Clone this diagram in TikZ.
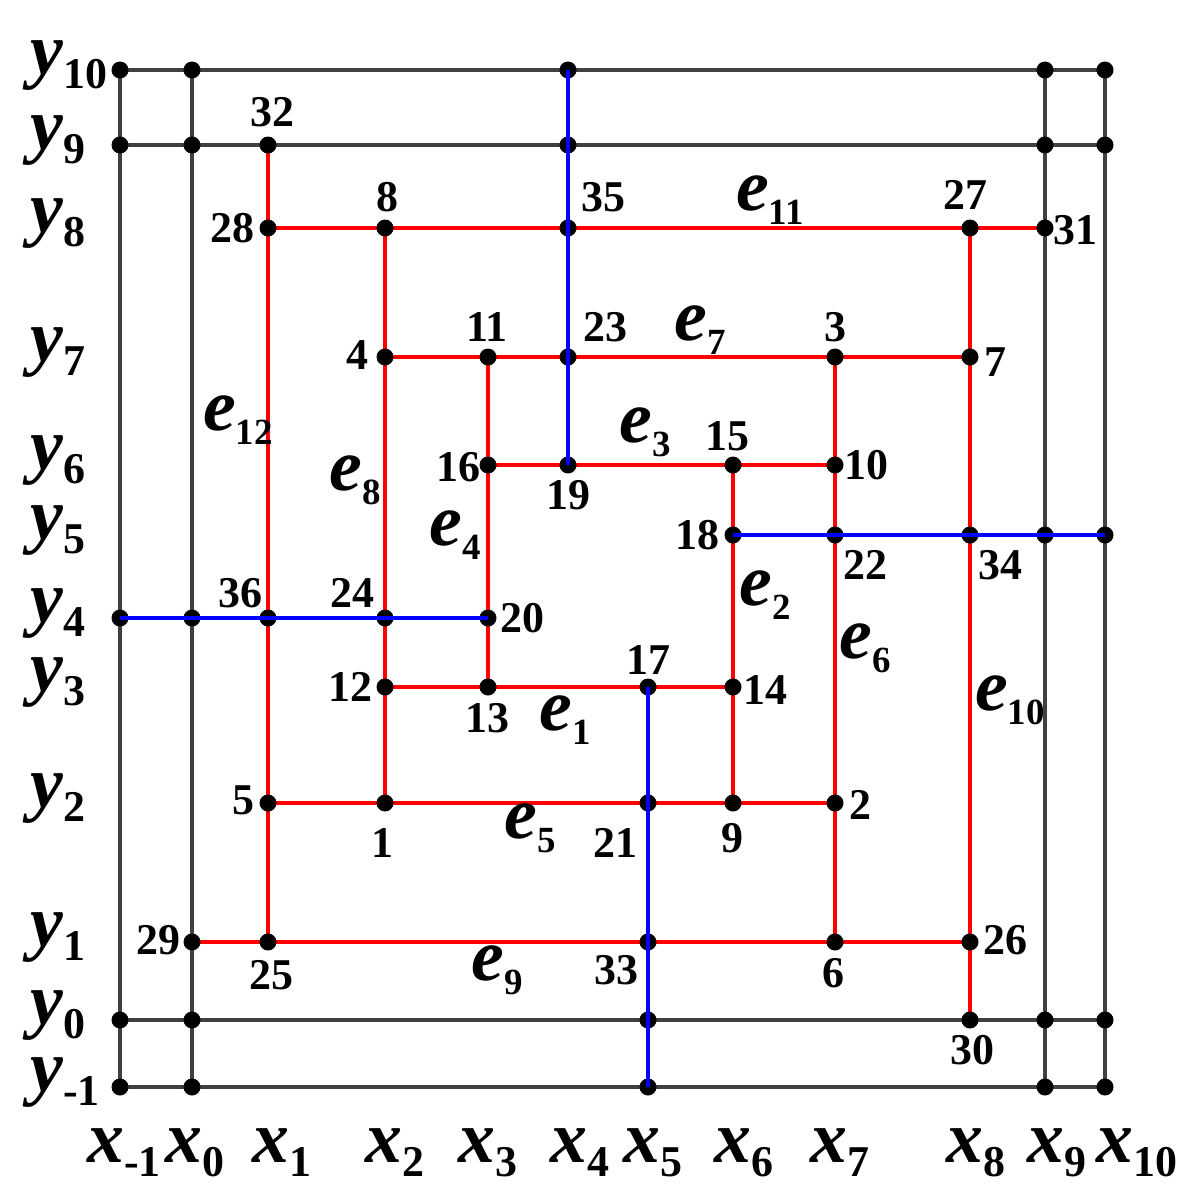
\documentclass[tikz,border=0pt]{standalone}
\usepackage{fontspec}
\setmainfont{Liberation Serif}
\definecolor{gridc}{HTML}{404040}
\definecolor{redc}{HTML}{FF0000}
\definecolor{bluec}{HTML}{0000FF}
\tikzset{
  gridline/.style={draw=gridc, line width=2.6pt},
  redline/.style={draw=redc, line width=2.6pt},
  blueline/.style={draw=bluec, line width=2.4pt},
  dot/.style={circle, fill=black, inner sep=0pt, minimum size=0.34cm},
  num/.style={font=\fontsize{25}{25}\selectfont\bfseries, inner sep=0pt},
  axl/.style={inner sep=0pt, anchor=base west},
  edl/.style={inner sep=0pt},
}
\newcommand{\axlab}[2]{{\fontsize{42}{42}\selectfont\bfseries\itshape #1}\raisebox{-8pt}{\fontsize{25}{25}\selectfont\bfseries #2}}
\newcommand{\elab}[2]{{\fontsize{42}{42}\selectfont\bfseries\itshape #1}\raisebox{-8pt}{\fontsize{21}{21}\selectfont\bfseries #2}}
\begin{document}
\begin{tikzpicture}[x=0.02cm,y=-0.02cm]
\useasboundingbox (0,0) rectangle (1200,1200);
% grid positions
\def\xm{120}\def\xa{192}\def\xb{268}\def\xc{385}\def\xd{488}\def\xe{568}
\def\xf{648}\def\xg{733}\def\xh{835}\def\xi{970}\def\xj{1045}\def\xk{1105}
\def\yk{70}\def\yj{145}\def\yi{228}\def\yh{357}\def\yg{465}\def\yf{535}
\def\ye{618}\def\yd{687}\def\yc{803}\def\yb{942}\def\ya{1020}\def\ym{1087}
% unnumbered grid points
\foreach \px/\py/\nm in {\xm/\yk/g1,\xa/\yk/g2,\xe/\yk/g3,\xj/\yk/g4,\xk/\yk/g5,
  \xm/\yj/g6,\xa/\yj/g7,\xe/\yj/g8,\xj/\yj/g9,\xk/\yj/g10,
  \xm/\ye/g11,\xa/\ye/g12,\xj/\yf/g13,\xk/\yf/g14,
  \xm/\ya/g15,\xa/\ya/g16,\xf/\ya/g17,\xj/\ya/g18,\xk/\ya/g19,
  \xm/\ym/g20,\xa/\ym/g21,\xf/\ym/g22,\xj/\ym/g23,\xk/\ym/g24}
  \coordinate (\nm) at (\px,\py);
% numbered points
\foreach \px/\py/\nm in {\xc/\yc/1,\xh/\yc/2,\xh/\yh/3,\xc/\yh/4,\xb/\yc/5,\xh/\yb/6,
  \xi/\yh/7,\xc/\yi/8,\xg/\yc/9,\xh/\yg/10,\xd/\yh/11,\xc/\yd/12,\xd/\yd/13,
  \xg/\yd/14,\xg/\yg/15,\xd/\yg/16,\xf/\yd/17,\xg/\yf/18,\xe/\yg/19,\xd/\ye/20,
  \xf/\yc/21,\xh/\yf/22,\xe/\yh/23,\xc/\ye/24,\xb/\yb/25,\xi/\yb/26,\xi/\yi/27,
  \xb/\yi/28,\xa/\yb/29,\xi/\ya/30,\xj/\yi/31,\xb/\yj/32,\xf/\yb/33,\xi/\yf/34,
  \xe/\yi/35,\xb/\ye/36}
  \coordinate (n\nm) at (\px,\py);
% black grid lines
\draw[gridline] (g1) -- (g5);
\draw[gridline] (g6) -- (g10);
\draw[gridline] (g15) -- (g19);
\draw[gridline] (g20) -- (g24);
\draw[gridline] (g1) -- (g20);
\draw[gridline] (g2) -- (g21);
\draw[gridline] (g4) -- (g23);
\draw[gridline] (g5) -- (g24);
% red spiral
\draw[redline] (n28) -- (n31);
\draw[redline] (n32) -- (n25);
\draw[redline] (n29) -- (n26);
\draw[redline] (n27) -- (n30);
\draw[redline] (n8) -- (n1);
\draw[redline] (n4) -- (n7);
\draw[redline] (n3) -- (n6);
\draw[redline] (n5) -- (n2);
\draw[redline] (n11) -- (n13);
\draw[redline] (n16) -- (n10);
\draw[redline] (n15) -- (n9);
\draw[redline] (n12) -- (n14);
% dots
\foreach \nm in {g1,g2,g3,g4,g5,g6,g7,g8,g9,g10,g11,g12,g13,g14,g15,g16,g17,g18,g19,g20,g21,g22,g23,g24}
  \node[dot] (d\nm) at (\nm) {};
\foreach \nm in {1,...,36}
  \node[dot] (dn\nm) at (n\nm) {};
% blue lines
\draw[blueline] (g3) -- (n19);
\draw[blueline] (g11) -- (n20);
\draw[blueline] (n17) -- (g22);
\draw[blueline] (n18) -- (g14);
% number labels
\foreach \px/\py/\t in {272/112/32, 232/228/28, 387/197/8, 603/197/35, 965/195/27,
  1075/230/31, 487/327/11, 605/327/23, 835/327/3, 357/355/4, 995/362/7,
  458/467/16, 568/495/19, 727/436/15, 866/465/10, 697/535/18, 865/565/22,
  1000/565/34, 240/593/36, 352/593/24, 522/618/20, 648/660/17, 350/687/12,
  765/690/14, 487/718/13, 243/800/5, 382/843/1, 860/805/2, 615/843/21,
  732/838/9, 158/940/29, 271/975/25, 616/970/33, 833/973/6, 1005/940/26,
  972/1050/30}
  \node[num] (t\t) at (\px,\py) {\t};
% edge labels
\foreach \px/\py/\s in {565/720/1, 765/595/2, 645/432/3, 455/535/4, 530/828/5,
  865/648/6, 700/330/7, 355/480/8, 497/970/9, 1010/700/10, 770/200/11, 238/420/12}
  \node[edl] (e\s) at (\px,\py) {\elab{e}{\s}};
% axis labels
\foreach \py/\s in {\yk/10,\yj/9,\yi/8,\yh/7,\yg/6,\yf/5,\ye/4,\yd/3,\yc/2,\yb/1,\ya/0,\ym/-1}
  \node[axl] (ly\s) at (30,\py+4) {\axlab{y}{\s}};
\foreach \px/\s in {87/-1,165/0,252/1,365/2,458/3,550/4,623/5,714/6,810/7,946/8,1027/9,1096/10}
  \node[axl] (lx\s) at (\px,1162) {\axlab{x}{\s}};
\end{tikzpicture}
\end{document}
